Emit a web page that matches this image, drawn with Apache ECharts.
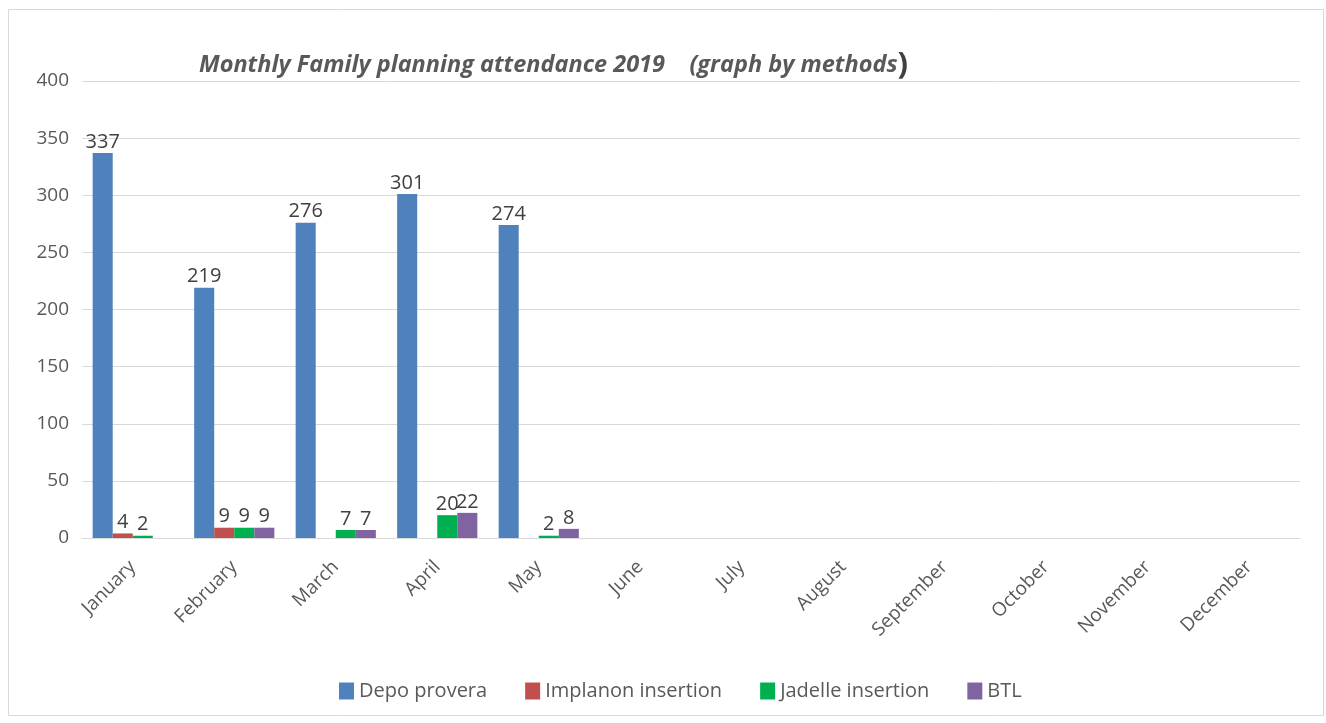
<!DOCTYPE html>
<html>
<head>
<meta charset="utf-8">
<script src="https://cdn.jsdelivr.net/npm/echarts@6/dist/echarts.min.js"></script>
<style>
html,body{margin:0;padding:0;background:#fff;}
#main{width:1326px;height:723px;}
</style>
</head>
<body>
<div id="main"></div>
<script>
const months = ['January','February','March','April','May','June','July','August','September','October','November','December'];
const depoProvera = [337, 219, 276, 301, 274, null, null, null, null, null, null, null];
const implanon = [4, 9, null, null, null, null, null, null, null, null, null, null];
const jadelle = [2, 9, 7, 20, 2, null, null, null, null, null, null, null];
const btl = [null, 9, 7, 22, 8, null, null, null, null, null, null, null];
const seriesNames = ['Depo provera', 'Implanon insertion', 'Jadelle insertion', 'BTL'];
const seriesColors = ['#4f81bd', '#c0504d', '#00b050', '#8064a2'];
const yTicks = {min: 0, max: 400, interval: 50};

const chart = echarts.init(document.getElementById('main'));
const font = 'Open Sans, Noto Sans, sans-serif';
const dataSets = [depoProvera, implanon, jadelle, btl];
chart.setOption({
  backgroundColor: '#fff',
  textStyle: {fontFamily: font},
  graphic: [{
    type: 'rect', left: 6, top: 7,
    shape: {width: 1315, height: 706},
    style: {fill: 'none', stroke: '#d9d9d9', lineWidth: 1},
    silent: true
  }],
  title: {
    text: '{t|Monthly Family planning attendance 2019    (graph by methods}{p|)}',
    left: 194, top: 45,
    textStyle: {
      rich: {
        t: {fontFamily: font, fontStyle: 'italic', fontWeight: 'bold', fontSize: 23.5, color: '#595959'},
        p: {fontFamily: font, fontSize: 31, color: '#404040', verticalAlign: 'bottom'}
      }
    }
  },
  legend: {
    top: 676, left: 334,
    itemWidth: 15, itemHeight: 17, itemGap: 38,
    icon: 'rect',
    textStyle: {fontSize: 20, color: '#595959', fontFamily: font},
    data: seriesNames
  },
  grid: {left: 82, right: 26, top: 81, bottom: 185, containLabel: false},
  xAxis: {
    type: 'category', data: months,
    axisLine: {lineStyle: {color: '#d9d9d9'}},
    axisTick: {show: false},
    axisLabel: {rotate: 45, fontSize: 19, color: '#595959', margin: 26, interval: 0}
  },
  yAxis: {
    type: 'value', min: yTicks.min, max: yTicks.max, interval: yTicks.interval,
    axisLine: {show: false}, axisTick: {show: false},
    axisLabel: {fontSize: 19, color: '#595959', margin: 13},
    splitLine: {lineStyle: {color: '#d9d9d9'}}
  },
  series: seriesNames.map((n, i) => ({
    name: n, type: 'bar', data: dataSets[i],
    barGap: '0%', barCategoryGap: '21%',
    itemStyle: {color: seriesColors[i]},
    label: {show: true, position: 'top', fontSize: 20, color: '#404040', distance: 1, fontFamily: font}
  }))
});
</script>
</body>
</html>
